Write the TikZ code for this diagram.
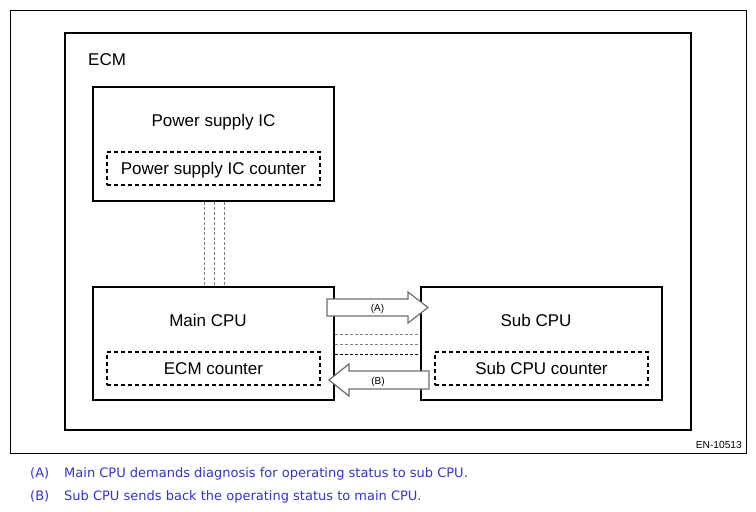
\documentclass[tikz,border=0pt]{standalone}
\usepackage{fontspec}
\setmainfont{Liberation Sans}
\newfontfamily\capfont{DejaVu Sans}
\usetikzlibrary{calc}
\definecolor{capblue}{RGB}{51,51,204}
\definecolor{arrgray}{RGB}{110,110,110}
\tikzset{
  box/.style={draw=black, line width=2pt, minimum width=241pt, minimum height=113pt, inner sep=0pt},
  cntbox/.style={draw=black, line width=1.8pt, dash pattern=on 4pt off 3pt, minimum width=213pt, minimum height=33pt, inner sep=0pt},
  lbl/.style={font=\fontsize{17}{20}\selectfont, anchor=base, inner sep=0pt},
  alabel/.style={font=\fontsize{10}{12}\selectfont, anchor=base, inner sep=0pt},
  caption/.style={font=\capfont\fontsize{13}{16}\selectfont, text=capblue, anchor=base west, inner sep=0pt},
  vlink/.style={draw=gray, line width=0.8pt, dash pattern=on 3pt off 2pt},
  bigarrow/.style={draw=arrgray, line width=1.2pt, fill=white, line join=miter},
}
\begin{document}
\begin{tikzpicture}[x=1pt, y=-1pt]
\useasboundingbox (0,0) rectangle (756,512);
% outer frame
\node[draw=black, line width=0.8pt, minimum width=736pt, minimum height=443pt, inner sep=0pt] (frame) at (378,231.5) {};
% ECM box
\node[draw=black, line width=2.5pt, minimum width=626pt, minimum height=397pt, inner sep=0pt] (ecm) at (378,231.5) {};
\node[lbl, anchor=base west] (ecmlbl) at (88,65) {ECM};
% boxes
\node[box, minimum height=114pt] (ps) at (213.5,144) {};
\node[box] (main) at (213.5,343.5) {};
\node[box] (sub) at (541.5,343.5) {};
\node[cntbox] (pscnt) at (213.5,168.5) {};
\node[cntbox] (ecmcnt) at (213.5,368.5) {};
\node[cntbox] (subcnt) at (541.5,368.5) {};
% labels
\node[lbl] (pslbl) at (213.5,126) {Power supply IC};
\node[lbl] (pscntlbl) at (213.5,174) {Power supply IC counter};
\node[lbl] (mainlbl) at (208,326) {Main CPU};
\node[lbl] (ecmcntlbl) at (213.5,374) {ECM counter};
\node[lbl] (sublbl) at (536,326) {Sub CPU};
\node[lbl] (subcntlbl) at (541.5,374) {Sub CPU counter};
% vertical dashed links
\foreach \dx in {-9.5,0.5,10.5} {
  \draw[vlink] ([xshift=\dx pt]ps.south) -- ([xshift=\dx pt]main.north);
}
% horizontal dashed links
\draw[draw=gray, line width=0.8pt, dash pattern=on 3pt off 2pt] ([yshift=9.5pt]main.east) -- ([yshift=9.5pt]sub.west);
\draw[draw=gray, line width=0.8pt, dash pattern=on 3pt off 2pt] ([yshift=-0.5pt]main.east) -- ([yshift=-0.5pt]sub.west);
\draw[draw=black, line width=0.8pt, dash pattern=on 3pt off 2pt] ([yshift=-10.5pt]main.east) -- ([yshift=-10.5pt]sub.west);
% arrow A
\coordinate (aT) at (428,307.5);
\draw[bigarrow] (327,299) -- (408,299) -- (408,292) -- (aT) -- (408,323) -- (408,316) -- (327,316) -- cycle;
\node[alabel] (albl) at (377.5,311) {(A)};
% arrow B
\coordinate (bT) at (329,380);
\draw[bigarrow] (429,371) -- (349,371) -- (349,364) -- (bT) -- (349,396) -- (349,389) -- (429,389) -- cycle;
\node[alabel] (blbl) at (378,384) {(B)};
% figure number
\node[font=\fontsize{10.2}{12}\selectfont, anchor=base east, inner sep=0pt] (fig) at (742,448) {EN-10513};
% captions
\node[caption] (capA) at (30,477) {(A)};
\node[caption] (capAt) at (64,477) {Main CPU demands diagnosis for operating status to sub CPU.};
\node[caption] (capB) at (30,500) {(B)};
\node[caption] (capBt) at (64,500) {Sub CPU sends back the operating status to main CPU.};
\end{tikzpicture}
\end{document}
